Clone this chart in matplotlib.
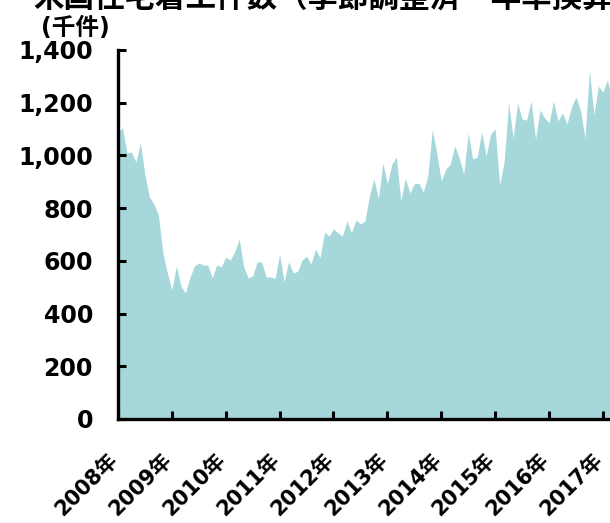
import matplotlib
matplotlib.use('Agg')
import matplotlib.pyplot as plt
from matplotlib.ticker import FuncFormatter

# monthly housing starts, thousands (SAAR), Jan 2008 -> Mar 2017
starts_2008 = [1090, 1104, 1009, 1013, 975, 1047, 926, 842, 816, 774, 630, 554]
starts_2009 = [489, 580, 505, 478, 535, 580, 592, 584, 584, 535, 584, 577]
starts_2010 = [614, 603, 634, 683, 577, 535, 543, 596, 595, 539, 539, 533]
starts_2011 = [626, 520, 596, 554, 560, 603, 618, 588, 645, 611, 709, 694]
starts_2012 = [721, 706, 694, 751, 706, 755, 740, 751, 846, 911, 835, 971]
starts_2013 = [892, 967, 994, 827, 914, 857, 892, 895, 861, 922, 1097, 1009]
starts_2014 = [903, 948, 967, 1036, 990, 929, 1085, 986, 994, 1089, 998, 1081]
starts_2015 = [1100, 888, 975, 1199, 1066, 1199, 1138, 1134, 1206, 1062, 1172, 1142]
starts_2016 = [1123, 1206, 1131, 1161, 1119, 1184, 1222, 1172, 1066, 1324, 1153, 1263]
starts_2017 = [1240, 1286, 1215]

years = ['2008年', '2009年', '2010年', '2011年', '2012年',
         '2013年', '2014年', '2015年', '2016年', '2017年']
y_ticks = [0, 200, 400, 600, 800, 1000, 1200, 1400]

title = '米国住宅着工件数（季節調整済・年率換算）'
unit = '(千件)'

starts = (starts_2008 + starts_2009 + starts_2010 + starts_2011 + starts_2012 +
          starts_2013 + starts_2014 + starts_2015 + starts_2016 + starts_2017)
months = list(range(len(starts)))

fonts = ['DejaVu Sans', 'Noto Sans CJK JP']

fig = plt.figure(figsize=(6.10, 5.23), dpi=100)
ax = fig.add_axes([0.1934, 0.1989, 0.8833, 0.7055])

ax.fill_between(months, starts, 0, color='#A5D7DB', linewidth=0)

ax.set_xlim(0, 120)
ax.set_ylim(0, 1400)

ax.set_xticks([12 * i for i in range(len(years))])
ax.set_xticklabels(years, rotation=45, ha='right', va='top',
                   rotation_mode='default',
                   fontsize=15, fontweight='bold', family=fonts)
ax.set_yticks(y_ticks)
ax.yaxis.set_major_formatter(FuncFormatter(lambda v, p: f'{int(v):,}'))
for lab in ax.get_yticklabels():
    lab.set_fontsize(17)
    lab.set_fontweight('bold')
    lab.set_family(fonts)

ax.tick_params(axis='both', direction='in', length=6, width=2.2, color='black')
ax.tick_params(axis='x', pad=22)
ax.tick_params(axis='y', pad=18)

# nudge the rotated year labels a little to the right, as in the original
import matplotlib.transforms as mtransforms
shift = mtransforms.ScaledTranslation(4 / 100, 0, fig.dpi_scale_trans)
for lab in ax.get_xticklabels():
    lab.set_transform(lab.get_transform() + shift)

for side in ['top', 'right']:
    ax.spines[side].set_visible(False)
for side in ['left', 'bottom']:
    ax.spines[side].set_linewidth(2.4)
    ax.spines[side].set_color('black')

# title is cut off by the top edge in the original
fig.text(33 / 610, 1 - 7 / 523, title, ha='left', va='baseline',
         fontsize=22, fontweight='bold', family=['Noto Sans CJK JP', 'DejaVu Sans'])
fig.text(75 / 610, 1 - 28 / 523, unit, ha='center', va='center',
         fontsize=17, fontweight='bold', family=fonts)

fig.savefig('out.png', dpi=100)
